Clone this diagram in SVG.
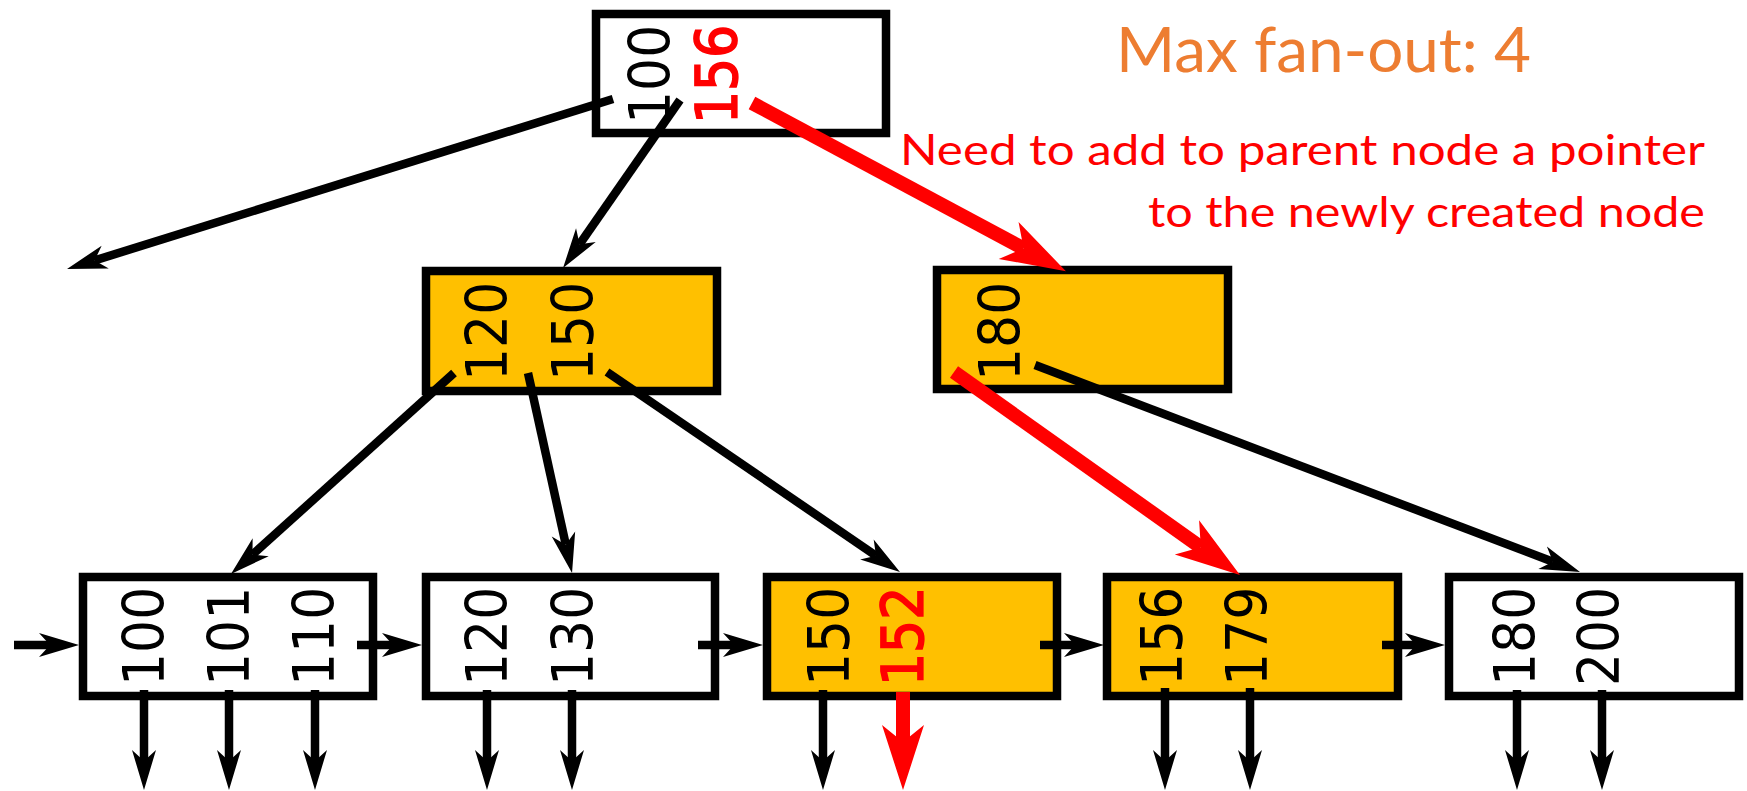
<svg xmlns="http://www.w3.org/2000/svg" width="1747" height="791" viewBox="0 0 1747 791">
<style>
.n{fill:#fff;stroke:#000;stroke-width:8.5}
.y{fill:#FFC000;stroke:#000;stroke-width:8.5}
.k{font-family:"DejaVu Sans",sans-serif;font-size:52px;fill:#000}
.r{fill:#f00;stroke:#f00;stroke-width:1.6}
.c{fill:none;stroke:#000;stroke-width:8.5;marker-end:url(#ab)}
.cr{fill:none;stroke:#f00;stroke-width:14;marker-end:url(#ar)}
.t{font-family:Lato,"Open Sans",sans-serif}
</style>
<defs>
<marker id="ab" markerUnits="userSpaceOnUse" orient="auto" refX="11" refY="0" markerWidth="60" markerHeight="40" viewBox="0 -20 60 40" overflow="visible">
<path d="M0,-12 L40,0 L0,12 L11,0 Z" fill="#000"/>
</marker>
<marker id="ar" markerUnits="userSpaceOnUse" orient="auto" refX="17" refY="0" markerWidth="80" markerHeight="50" viewBox="0 -25 80 50" overflow="visible">
<path d="M0,-21 L65,0 L0,21 L17,0 Z" fill="#f00"/>
</marker>
</defs>
<g id="root">
<rect class="n" x="596" y="14" width="290" height="119"/>
<text class="k" transform="translate(670,124) rotate(-90) scale(1,1.08)">100</text>
<text class="k r" transform="translate(737,124) rotate(-90) scale(1,1.08)">156</text>
</g>
<g id="inner-left">
<rect class="y" x="426" y="271" width="291" height="120"/>
<text class="k" transform="translate(507,381) rotate(-90) scale(1,1.08)">120</text>
<text class="k" transform="translate(593,381) rotate(-90) scale(1,1.08)">150</text>
</g>
<g id="inner-right">
<rect class="y" x="937" y="270" width="291" height="119"/>
<text class="k" transform="translate(1020,381) rotate(-90) scale(1,1.08)">180</text>
</g>
<g id="leaf1">
<rect class="n" x="83" y="577" width="290" height="119"/>
<text class="k" transform="translate(164,686) rotate(-90) scale(1,1.08)">100</text>
<text class="k" transform="translate(249,686) rotate(-90) scale(1,1.08)">101</text>
<text class="k" transform="translate(334,686) rotate(-90) scale(1,1.08)">110</text>
</g>
<g id="leaf2">
<rect class="n" x="426" y="577" width="289" height="119"/>
<text class="k" transform="translate(507,686) rotate(-90) scale(1,1.08)">120</text>
<text class="k" transform="translate(593,686) rotate(-90) scale(1,1.08)">130</text>
</g>
<g id="leaf3">
<rect class="y" x="767" y="577" width="290" height="119"/>
<text class="k" transform="translate(849,686) rotate(-90) scale(1,1.08)">150</text>
<text class="k r" transform="translate(923,686) rotate(-90) scale(1,1.08)">152</text>
</g>
<g id="leaf4">
<rect class="y" x="1107" y="577" width="291" height="119"/>
<text class="k" transform="translate(1182,686) rotate(-90) scale(1,1.08)">156</text>
<text class="k" transform="translate(1267,686) rotate(-90) scale(1,1.08)">179</text>
</g>
<g id="leaf5">
<rect class="n" x="1449" y="577" width="290" height="119"/>
<text class="k" transform="translate(1535,686) rotate(-90) scale(1,1.08)">180</text>
<text class="k" transform="translate(1619,686) rotate(-90) scale(1,1.08)">200</text>
</g>
<g id="connectors">
<path class="c" d="M613,99 L94.7,260.4"/>
<path class="c" d="M680,100 L579.6,244.2"/>
<path class="c" d="M454,373 L252.5,554.6"/>
<path class="c" d="M528,373 L565.8,544.7"/>
<path class="c" d="M607,372 L876,555.7"/>
<path class="c" d="M1035,365 L1552.9,561.7"/>
<path class="cr" d="M752,103 L1023.6,248.5"/>
<path class="cr" d="M954,372 L1200.8,547.2"/>
<path class="c" d="M14,645 L50,645"/>
<path class="c" d="M357,645 L393,645"/>
<path class="c" d="M698,645 L734,645"/>
<path class="c" d="M1040,645 L1075,645"/>
<path class="c" d="M1382,645 L1416,645"/>
<path class="c" d="M144,690 L144,761"/>
<path class="c" d="M229,690 L229,761"/>
<path class="c" d="M315,690 L315,761"/>
<path class="c" d="M487,690 L487,761"/>
<path class="c" d="M572,690 L572,761"/>
<path class="c" d="M823,690 L823,761"/>
<path class="cr" d="M903,692 L903,742"/>
<path class="c" d="M1165,688 L1165,761"/>
<path class="c" d="M1250,688 L1250,761"/>
<path class="c" d="M1517,690 L1517,761"/>
<path class="c" d="M1602,690 L1602,761"/>
</g>
<g id="notes">
<text class="t" x="1116" y="72" font-size="61" fill="#ED7D31" textLength="415" lengthAdjust="spacingAndGlyphs">Max fan-out: 4</text>
<text class="t" x="1705" y="165" font-size="42" fill="#f00" text-anchor="end" textLength="805" lengthAdjust="spacingAndGlyphs">Need to add to parent node a pointer</text>
<text class="t" x="1705" y="227" font-size="42" fill="#f00" text-anchor="end" textLength="557" lengthAdjust="spacingAndGlyphs">to the newly created node</text>
</g>
</svg>
